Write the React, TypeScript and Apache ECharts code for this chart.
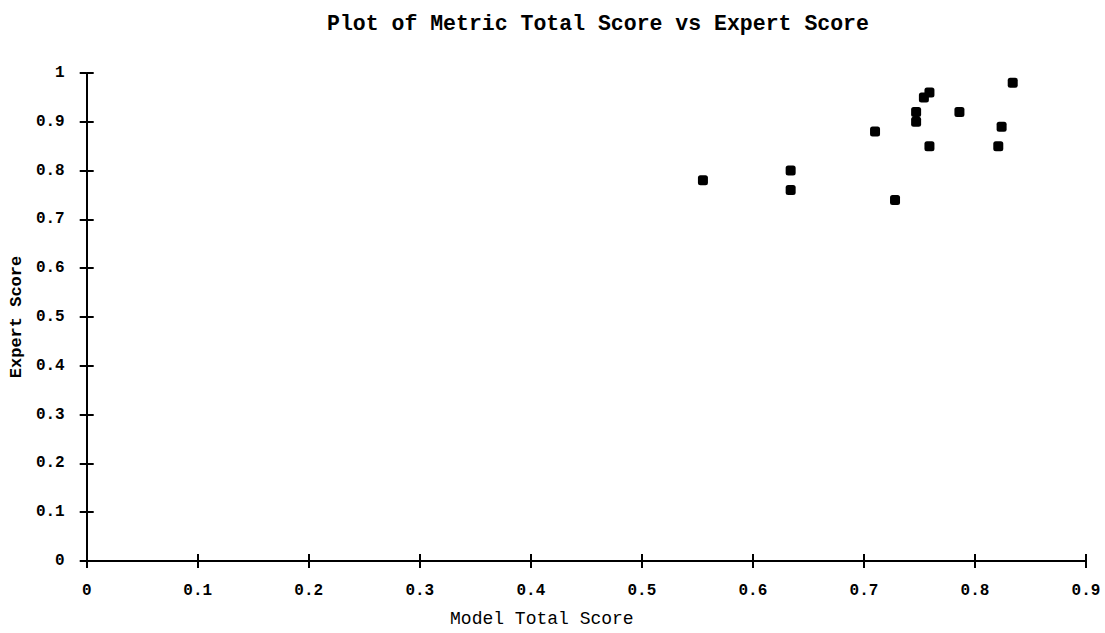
import React, { useEffect, useRef } from "react";
import * as echarts from "echarts";

const modelTotalScore = [0.555, 0.634, 0.634, 0.710, 0.728, 0.747, 0.747, 0.754, 0.759, 0.759, 0.786, 0.821, 0.824, 0.834];
const expertScore = [0.78, 0.80, 0.76, 0.88, 0.74, 0.92, 0.90, 0.95, 0.96, 0.85, 0.92, 0.85, 0.89, 0.98];

const xTicks = { min: 0, max: 0.9, interval: 0.1 };
const yTicks = { min: 0, max: 1, interval: 0.1 };

const FONT = "'Liberation Mono', 'DejaVu Sans Mono', monospace";

export default function App() {
  const ref = useRef<HTMLDivElement>(null);
  useEffect(() => {
    document.body.style.margin = "0";
    if (!ref.current) return;
    const chart = echarts.init(ref.current, undefined, { renderer: "svg" });
    const points = modelTotalScore.map((x, i) => [x, expertScore[i]]);
    const fmt = (v: number) => (Math.abs(v) < 1e-9 ? "0" : Math.abs(v - 1) < 1e-9 ? "1" : v.toFixed(1));
    const axisLine = { show: true, lineStyle: { color: "#000", width: 2 } };
    const labelStyle = { color: "#000", fontFamily: FONT, fontWeight: "bold" as const, fontSize: 16 };
    chart.setOption({
      animation: false,
      backgroundColor: "#fff",
      title: {
        text: "Plot of Metric Total Score vs Expert Score",
        left: 322,
        top: 8,
        textStyle: { color: "#000", fontFamily: FONT, fontWeight: "bold", fontSize: 21.5 },
      },
      grid: { left: 81, right: 19, top: 73, bottom: 67, containLabel: false },
      xAxis: [
        {
          type: "value",
          min: xTicks.min,
          max: xTicks.max,
          interval: xTicks.interval,
          name: "Model Total Score",
          nameLocation: "middle",
          nameGap: 49,
          nameTextStyle: { color: "#000", fontFamily: FONT, fontSize: 18, padding: [0, 89, 0, 0] },
          axisLine,
          axisTick: { show: true, inside: false, length: 7, lineStyle: { color: "#000", width: 2 } },
          axisLabel: { ...labelStyle, margin: 22, formatter: fmt, showMaxLabel: true, showMinLabel: true },
          splitLine: { show: false },
        },
        {
          type: "value",
          min: xTicks.min,
          max: xTicks.max,
          interval: xTicks.interval,
          position: "bottom",
          axisLine: { show: false },
          axisTick: { show: true, inside: true, length: 7, lineStyle: { color: "#000", width: 2 } },
          axisLabel: { show: false },
          splitLine: { show: false },
        },
      ],
      yAxis: [
        {
          type: "value",
          min: yTicks.min,
          max: yTicks.max,
          interval: yTicks.interval,
          name: "Expert Score",
          nameLocation: "middle",
          nameGap: 60,
          nameTextStyle: { color: "#000", fontFamily: FONT, fontWeight: "bold", fontSize: 17 },
          axisLine,
          axisTick: { show: true, inside: false, length: 7, lineStyle: { color: "#000", width: 2 } },
          axisLabel: { ...labelStyle, margin: 22, formatter: fmt },
          splitLine: { show: false },
        },
        {
          type: "value",
          min: yTicks.min,
          max: yTicks.max,
          interval: yTicks.interval,
          position: "left",
          axisLine: { show: false },
          axisTick: { show: true, inside: true, length: 7, lineStyle: { color: "#000", width: 2 } },
          axisLabel: { show: false },
          splitLine: { show: false },
        },
      ],
      series: [
        {
          type: "scatter",
          xAxisIndex: 0,
          yAxisIndex: 0,
          data: points,
          symbol: "roundRect",
          symbolSize: 10,
          itemStyle: { color: "#000", opacity: 1 },
        },
      ],
    });
    return () => chart.dispose();
  }, []);
  return <div ref={ref} style={{ width: 1105, height: 633 }} />;
}
